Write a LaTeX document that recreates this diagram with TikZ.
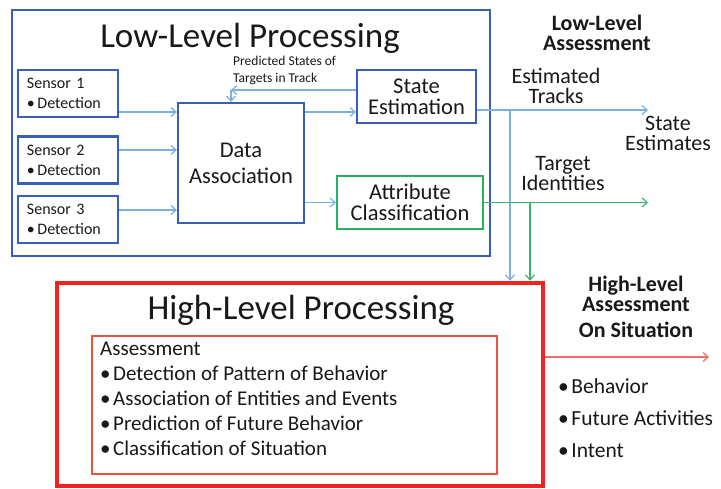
\documentclass[tikz,border=0pt]{standalone}
\usepackage{fontspec}
\setmainfont{Carlito}
\usetikzlibrary{arrows.meta,calc}
\definecolor{boxblue}{RGB}{55,95,185}
\definecolor{arrblue}{RGB}{125,175,225}
\definecolor{boxgreen}{RGB}{40,175,95}
\definecolor{arrgreen}{RGB}{55,180,110}
\definecolor{boxred}{RGB}{240,35,30}
\definecolor{inred}{RGB}{240,80,60}
\definecolor{arrred}{RGB}{240,110,100}
\definecolor{txt}{RGB}{25,25,25}
\newcommand\setfs[2]{\fontsize{#1}{#2}\selectfont}
\newcommand\bul{•\kern2.5pt}
\begin{document}
\begin{tikzpicture}[x=1pt,y=-1pt,
  every node/.style={text=txt},
  lbox/.style={draw=boxblue, line width=2.2pt, fill=white, inner sep=0pt},
  sensorbox/.style={lbox, text width=82pt, inner xsep=9pt, inner ysep=0pt, minimum height=47pt, align=left, font=\setfs{16}{20}},
  procbox/.style={lbox, align=center, font=\setfs{22.5}{21}},
  flow/.style={draw=arrblue, line width=1.3pt, -{Straight Barb[length=5pt,width=9pt,line width=1.2pt]}},
  gflow/.style={flow, draw=arrgreen},
  rflow/.style={flow, draw=arrred},
  title/.style={anchor=base, inner sep=0pt, font=\setfs{35}{35}},
  lbl/.style={anchor=base, inner sep=0pt, font=\setfs{22}{22}},
  blbl/.style={anchor=base, inner sep=0pt, font=\setfs{22}{22}\bfseries},
  item/.style={anchor=base west, inner sep=0pt, font=\setfs{21}{21}},
]
\useasboundingbox[fill=white] (0,0) rectangle (721,488);

% Low-level frame
\node[draw=boxblue, line width=2pt, minimum width=478pt, minimum height=246pt, inner sep=0pt] (LL) at (251,133) {};
\node[title] (LLt) at (250,47) {Low-Level Processing};

% sensors
\node[sensorbox] (s1) at (68,93.5) {Sensor 1\\\bul Detection};
\node[sensorbox] (s2) at (68,160) {Sensor 2\\\bul Detection};
\node[sensorbox] (s3) at (68,219.5) {Sensor 3\\\bul Detection};

% processing boxes
\node[procbox, minimum width=126pt, minimum height=120pt, font=\setfs{22.5}{26}] (DA) at (241,163) {Data\\Association};
\node[procbox, minimum width=119pt, minimum height=53pt] (SE) at (416.5,96.5) {State\\Estimation};
\node[procbox, draw=boxgreen, minimum width=146pt, minimum height=53pt] (AC) at (410,202.5) {Attribute\\Classification};

% predicted label
\node[anchor=base west, inner sep=0pt, font=\setfs{13.5}{13.5}] (pr1) at (233,65) {Predicted States of};
\node[anchor=base west, inner sep=0pt, font=\setfs{13.5}{13.5}] (pr2) at (233,82) {Targets in Track};

% sensor arrows
\coordinate (s1o) at ($(s1.east)+(0,18.5)$);
\coordinate (s2o) at ($(s2.east)+(0,-10)$);
\coordinate (s3o) at ($(s3.east)+(0,-9.5)$);
\draw[flow] (s1o) -- (s1o -| DA.west);
\draw[flow] (s2o) -- (s2o -| DA.west);
\draw[flow] (s3o) -- (s3o -| DA.west);
% DA -> SE, DA -> AC
\coordinate (dao) at (DA.east |- s1o);
\draw[flow] (dao) -- (dao -| SE.west);
\draw[flow] (DA.east |- AC.west) -- (AC.west);
% feedback
\coordinate (fbs) at ($(SE.west)+(0,-6.5)$);
\coordinate (fbc) at (231,90);
\draw[flow] (fbs) -- (fbc);
\draw[flow] (fbc) -- (fbc |- DA.north);

% High-level frame
\node[draw=boxred, line width=4.5pt, minimum width=486pt, minimum height=203pt, inner sep=0pt] (HL) at (300,384.5) {};
\node[draw=inred, line width=2pt, minimum width=405pt, minimum height=138pt, inner sep=0pt] (HI) at (294.5,405) {};
\node[title] (HLt) at (301,319) {High-Level Processing};
\node[item] (a0) at (100,355) {Assessment};
\node[item] (a1) at (100,380) {\bul Detection of Pattern of Behavior};
\node[item] (a2) at (100,405) {\bul Association of Entities and Events};
\node[item] (a3) at (100,430) {\bul Prediction of Future Behavior};
\node[item] (a4) at (100,455) {\bul Classification of Situation};

% right-side outputs
\coordinate (seo) at ($(SE.east)+(0,13.5)$);
\coordinate (tapB) at (510,110);
\coordinate (tapG) at (530,202.5);
\coordinate (endB) at (648,110);
\coordinate (endG) at (648,202.5);
\coordinate (hlo) at (HL.east |- 0,357);
\coordinate (endR) at (709,357);
\draw[flow] (seo) -- (endB);
\draw[flow] (tapB) -- (tapB |- HL.north);
\draw[gflow] (AC.east) -- (endG);
\draw[gflow] (tapG) -- (tapG |- HL.north);
\draw[rflow] (hlo) -- (endR);

\node[blbl] (la1) at (597,30) {Low-Level};
\node[blbl] (la2) at (597,50) {Assessment};
\node[lbl] (et1) at (556,83) {Estimated};
\node[lbl] (et2) at (556,103) {Tracks};
\node[lbl] (se1) at (668,130) {State};
\node[lbl] (se2) at (668,150) {Estimates};
\node[lbl] (ti1) at (563,170) {Target};
\node[lbl] (ti2) at (563,190) {Identities};

\node[blbl] (ha1) at (636,291) {High-Level};
\node[blbl] (ha2) at (636,311) {Assessment};
\node[blbl] (ha3) at (636,337) {On Situation};
\node[item, font=\setfs{21.5}{21.5}] (o1) at (558,393) {\bul Behavior};
\node[item, font=\setfs{21.5}{21.5}] (o2) at (558,425) {\bul Future Activities};
\node[item, font=\setfs{21.5}{21.5}] (o3) at (558,457) {\bul Intent};
\end{tikzpicture}
\end{document}
